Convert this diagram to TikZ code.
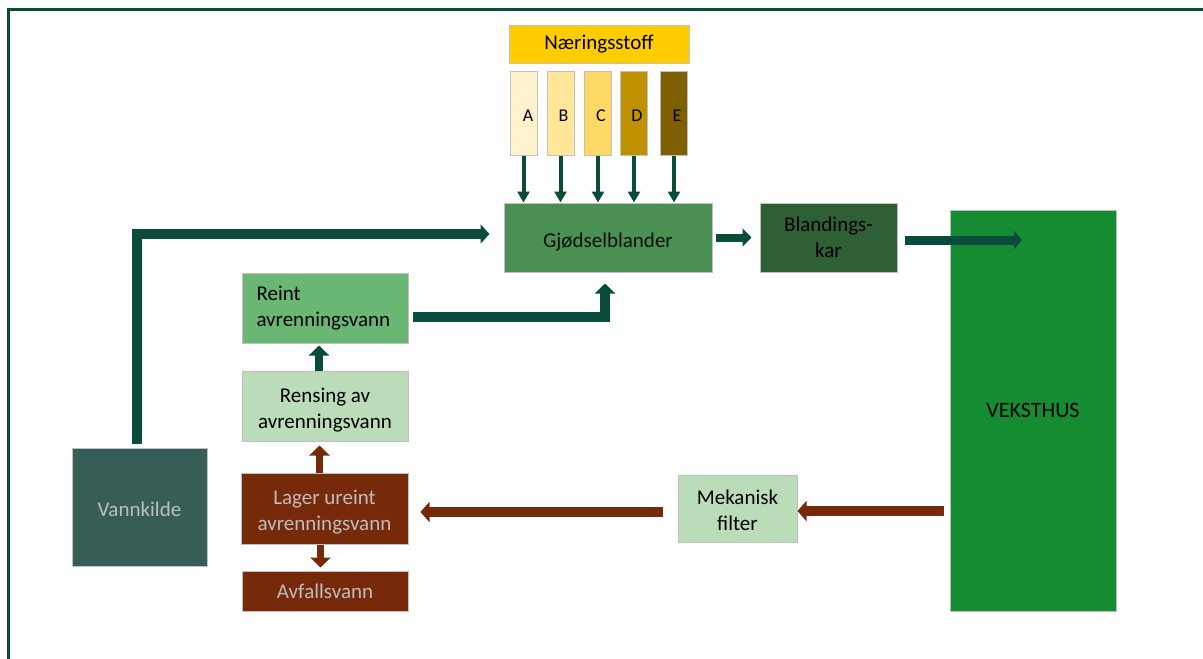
\documentclass[tikz,border=0pt]{standalone}
\usepackage{fontspec}
\setmainfont{Carlito}
\usetikzlibrary{arrows.meta}
\definecolor{arrgreen}{HTML}{0B4B3C}
\definecolor{arrbrown}{HTML}{772A0A}
\definecolor{cNaer}{HTML}{FFCC00}
\definecolor{cA}{HTML}{FFF2CC}
\definecolor{cB}{HTML}{FFE699}
\definecolor{cC}{HTML}{FFD966}
\definecolor{cD}{HTML}{BF9000}
\definecolor{cE}{HTML}{7F6000}
\definecolor{cGjod}{HTML}{4A9052}
\definecolor{cBland}{HTML}{2F5F35}
\definecolor{cVeks}{HTML}{168C32}
\definecolor{cReint}{HTML}{6AB673}
\definecolor{cLight}{HTML}{BBDCB8}
\definecolor{cVann}{HTML}{365E57}
\definecolor{cBord}{HTML}{C0C0C0}
\definecolor{cTxtGray}{HTML}{BDBDBD}
\newcommand{\lowstrut}[1]{\rule{0pt}{#1}}
\tikzset{
  box/.style={draw=cBord, line width=1pt, inner sep=0pt, align=center,
    font=\fontsize{21}{26}\selectfont},
  letterbox/.style={box, minimum width=27pt, minimum height=84pt,
    font=\fontsize{18}{22}\selectfont},
  garrow/.style={arrgreen, line width=#1},
  barrow/.style={arrbrown, line width=#1},
  smallarr/.style={arrgreen, line width=4pt, -{Triangle[width=12pt,length=11pt]}},
}
\begin{document}
\begin{tikzpicture}[x=1pt,y=-1pt]
\useasboundingbox (0,0) rectangle (1203,659);
\clip (0,0) rectangle (1203,659);
\fill[white] (0,0) rectangle (1203,659);
% frame
\draw[arrgreen, line width=3pt] (8.5,700) -- (8.5,9.5) -- (1250,9.5);

% nodes
\node[box, fill=cNaer, minimum width=180pt, minimum height=38pt] (naer) at (599,44) {Næringsstoff};
\node[letterbox, fill=cA] (A) at (523.5,113) {\lowstrut{17pt}\hspace*{9pt}A};
\node[letterbox, fill=cB] (B) at (560.5,113) {\lowstrut{17pt}\hspace*{6pt}B};
\node[letterbox, fill=cC] (C) at (598,113) {\lowstrut{17pt}\hspace*{6pt}C};
\node[letterbox, fill=cD] (D) at (634,113) {\lowstrut{17pt}\hspace*{6pt}D};
\node[letterbox, fill=cE] (E) at (674,113) {\lowstrut{17pt}\hspace*{6pt}E};

\node[box, fill=cGjod, text=black!95, minimum width=208pt, minimum height=69pt] (gjod) at (608,237.5) {\lowstrut{23pt}Gjødselblander};
\node[box, fill=cBland, text=black, minimum width=137pt, minimum height=69pt] (bland) at (828.5,237.5) {Blandings-\\kar};
\node[box, fill=cVeks, text=black, minimum width=166pt, minimum height=401pt,
  font=\fontsize{22}{26}\selectfont] (veks) at (1033,410.5) {VEKSTHUS};

\node[box, fill=cReint, minimum width=166pt, minimum height=70pt, align=left] (reint) at (325,308)
  {\makebox[137pt][l]{Reint}\\\makebox[137pt][l]{avrenningsvann}};
\node[box, fill=cLight, minimum width=166pt, minimum height=70pt] (rens) at (325,406) {\lowstrut{23pt}Rensing av\\avrenningsvann};
\node[box, fill=arrbrown, text=cTxtGray, minimum width=167pt, minimum height=71pt] (lager) at (324.5,508.5) {\lowstrut{21pt}Lager ureint\\avrenningsvann};
\node[box, fill=arrbrown, text=cTxtGray, minimum width=166pt, minimum height=40pt] (avf) at (325,591) {Avfallsvann};
\node[box, fill=cVann, text=cTxtGray, minimum width=135pt, minimum height=118pt] (vann) at (139.5,507) {\lowstrut{19pt}Vannkilde};
\node[box, fill=cLight, minimum width=119pt, minimum height=67pt] (mek) at (737.5,508.5) {\lowstrut{18pt}Mekanisk\\filter};

% small arrows
\foreach \n in {A,B,C,D,E}{
  \draw[smallarr] (\n.south) -- (\n.south |- gjod.north);
}

% green connectors
\draw[garrow=10pt, -{Triangle[width=19pt,length=9pt]}]
  ([xshift=-2.5pt, yshift=4pt]vann.north) |- ([xshift=-14pt, yshift=3.5pt]gjod.west);
\draw[garrow=8pt, -{Triangle[width=18pt,length=9pt]}]
  ([xshift=3pt]gjod.east) -- ([xshift=-8pt]bland.west);
\coordinate (vin) at (1022,240);
\draw[garrow=9pt, -{Triangle[width=18pt,length=8pt]}]
  ([xshift=7pt, yshift=-2.5pt]bland.east) -- (vin);
\draw[garrow=10pt, -{Triangle[width=20pt,length=10pt]}]
  ([xshift=4pt, yshift=-9pt]reint.east) -| ([xshift=-3pt, yshift=-11pt]gjod.south);
\draw[garrow=8pt, -{Triangle[width=20pt,length=10pt]}]
  ([xshift=-6pt]rens.north) -- ([xshift=-6pt, yshift=-2pt]reint.south);

% brown connectors
\draw[barrow=7pt, -{Triangle[width=20pt,length=10pt]}]
  ([xshift=-5pt]lager.north) -- ([xshift=-5.5pt, yshift=-4pt]rens.south);
\draw[barrow=7pt, -{Triangle[width=20pt,length=10pt]}]
  ([xshift=-4pt]lager.south) -- ([xshift=-4.5pt, yshift=3pt]avf.north);
\draw[barrow=10pt, -{Triangle[width=20pt,length=9pt]}]
  ([xshift=-6pt, yshift=-2.5pt]veks.west |- mek.east) -- ([yshift=-2.5pt]mek.east);
\draw[barrow=10pt, -{Triangle[width=20pt,length=9pt]}]
  ([xshift=-15pt, yshift=-3.5pt]mek.west) -- ([xshift=12pt, yshift=-3.5pt]lager.east);
\end{tikzpicture}
\end{document}
